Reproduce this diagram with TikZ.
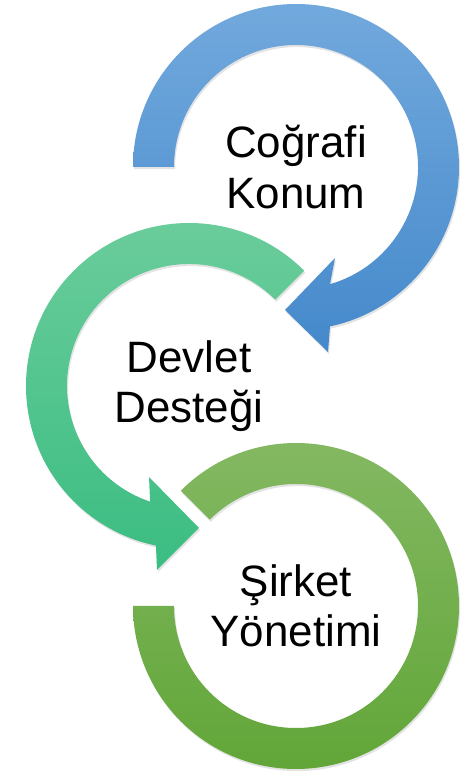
\documentclass[tikz,border=0pt]{standalone}
\usepackage{fontspec}
\setmainfont{Liberation Sans}
\usetikzlibrary{calc,positioning,shadows}
\definecolor{blueTop}{HTML}{72A9DD}
\definecolor{blueBot}{HTML}{4589CB}
\definecolor{tealTop}{HTML}{6CCD9C}
\definecolor{tealBot}{HTML}{3BBD82}
\definecolor{greenTop}{HTML}{85B964}
\definecolor{greenBot}{HTML}{60A536}
\tikzset{
    ring/.style={drop shadow={shadow xshift=0.6pt,shadow yshift=-1.2pt,opacity=0.22}},
    stagetext/.style={align=center, inner sep=0pt,
                      font=\fontsize{25}{28.5}\selectfont},
    }
\begin{document}
\begin{tikzpicture}[x=0.02cm,y=0.02cm]
    \useasboundingbox (0,0) rectangle (469,772);
    \coordinate (cb) at (296,605);
    \coordinate (ct) at (189,386);
    \coordinate (cg) at (296,166);

    % blue arc with head
    \shade[ring, top color=blueTop, bottom color=blueBot]
        ($(cb)+(180:163)$) arc[start angle=180, end angle=-77.96, radius=163]
        -- (328,420) -- (285,462) -- (335,514)
        -- ($(cb)+(-73.8:122)$) arc[start angle=-73.8, end angle=180, radius=122]
        -- cycle;
    % teal arc with head
    \shade[ring, top color=tealTop, bottom color=tealBot]
        ($(ct)+(45:163)$) arc[start angle=45, end angle=258.3, radius=163]
        -- (157,202) -- (199,244) -- (149,295)
        -- ($(ct)+(251.4:122)$) arc[start angle=251.4, end angle=45, radius=122]
        -- cycle;
    % green ring, no head
    \shade[ring, top color=greenTop, bottom color=greenBot]
        ($(cg)+(135:163)$) arc[start angle=135, end angle=-180, radius=163]
        -- ($(cg)+(180:122)$) arc[start angle=-180, end angle=135, radius=122]
        -- cycle;

    \node[stagetext] (geo) at (cb) {Coğrafi\\Konum};
    \node[stagetext] (gov) at (ct) {Devlet\\Desteği};
    \node[stagetext] (mgmt) at (cg) {Şirket\\Yönetimi};
\end{tikzpicture}
\end{document}
